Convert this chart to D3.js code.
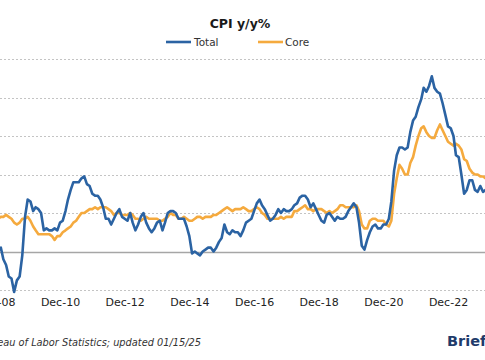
<!DOCTYPE html>
<html><head><meta charset="utf-8">
<script src="https://cdn.jsdelivr.net/npm/d3@7"></script>
<style>body{margin:0;background:#fff;}svg{display:block;font-family:"DejaVu Sans",Verdana,sans-serif;}</style>
</head><body><svg id="c" width="485" height="360"></svg>
<script>
const startMonth = "2008-01";
const total = [
4.3,4.0,4.0,3.9,4.2,5.0,5.6,5.4,4.9,3.7,1.1,0.1,
0.0,0.2,-0.4,-0.7,-1.3,-1.4,-2.1,-1.5,-1.3,-0.2,1.8,2.7,
2.6,2.1,2.3,2.2,2.0,1.1,1.2,1.1,1.1,1.2,1.1,1.5,
1.6,2.1,2.7,3.2,3.6,3.6,3.6,3.8,3.9,3.5,3.4,3.0,
2.9,2.9,2.7,2.3,1.7,1.7,1.4,1.7,2.0,2.2,1.8,1.7,
1.6,2.0,1.5,1.1,1.4,1.8,2.0,1.5,1.2,1.0,1.2,1.5,
1.6,1.1,1.5,2.0,2.1,2.1,2.0,1.7,1.7,1.7,1.3,0.8,
-0.1,0.0,-0.1,-0.2,0.0,0.1,0.2,0.2,0.0,0.2,0.5,0.7,
1.4,1.0,0.9,1.1,1.0,1.0,0.8,1.1,1.5,1.6,1.7,2.1,
2.5,2.7,2.4,2.2,1.9,1.6,1.7,1.9,2.2,2.0,2.2,2.1,
2.1,2.2,2.4,2.5,2.8,2.9,2.9,2.7,2.3,2.5,2.2,1.9,
1.6,1.5,1.9,2.0,1.8,1.6,1.8,1.7,1.7,1.8,2.1,2.3,
2.5,2.3,1.5,0.3,0.1,0.6,1.0,1.3,1.4,1.2,1.2,1.4,
1.4,1.7,2.6,4.2,5.0,5.4,5.4,5.3,5.4,6.2,6.8,7.0,
7.5,7.9,8.5,8.3,8.6,9.1,8.5,8.3,8.2,7.7,7.1,6.5,
6.4,6.0,5.0,4.9,4.0,3.0,3.2,3.7,3.7,3.2,3.1,3.4,
3.1,3.2,3.5,3.4,3.3,3.0,2.9,2.5,2.4,2.6,2.7,2.9
];
const core = [
2.5,2.3,2.4,2.3,2.3,2.4,2.5,2.5,2.5,2.2,2.0,1.8,
1.7,1.8,1.8,1.9,1.8,1.7,1.5,1.4,1.5,1.7,1.7,1.8,
1.6,1.3,1.1,0.9,0.9,0.9,0.9,0.9,0.8,0.6,0.8,0.8,
1.0,1.1,1.2,1.3,1.5,1.6,1.8,2.0,2.0,2.1,2.2,2.2,
2.3,2.2,2.3,2.3,2.3,2.2,2.1,1.9,2.0,2.0,1.9,1.9,
1.9,2.0,1.9,1.7,1.7,1.6,1.7,1.8,1.7,1.7,1.7,1.7,
1.6,1.6,1.7,1.8,2.0,1.9,1.9,1.7,1.7,1.8,1.7,1.6,
1.6,1.7,1.8,1.8,1.7,1.8,1.8,1.8,1.9,1.9,2.0,2.1,
2.2,2.3,2.2,2.1,2.2,2.2,2.2,2.3,2.2,2.1,2.1,2.2,
2.3,2.2,2.0,1.9,1.7,1.7,1.7,1.7,1.7,1.8,1.7,1.8,
1.8,1.8,2.1,2.1,2.2,2.3,2.4,2.2,2.2,2.1,2.2,2.2,
2.2,2.1,2.0,2.1,2.0,2.1,2.2,2.4,2.4,2.3,2.3,2.3,
2.3,2.4,2.1,1.4,1.2,1.2,1.6,1.7,1.7,1.6,1.6,1.6,
1.4,1.3,1.6,3.0,3.8,4.5,4.3,4.0,4.0,4.6,4.9,5.5,
6.0,6.4,6.5,6.2,6.0,5.9,5.9,6.3,6.6,6.3,6.0,5.7,
5.6,5.5,5.6,5.5,5.3,4.8,4.7,4.3,4.1,4.0,4.0,3.9,
3.9,3.8,3.8,3.6,3.4,3.3,3.2,3.2,3.3,3.3,3.3,3.2
];
const yTicks = [-2,0,2,4,6,8,10];
const xTickLabels = ["Dec-08","Dec-10","Dec-12","Dec-14","Dec-16","Dec-18","Dec-20","Dec-22"];
const seriesNames = ["Total","Core"];
const titleText = "CPI y/y%";
const sourceText = "Source: Bureau of Labor Statistics; updated 01/15/25";
const brandText = "Briefing.com";

const parse = d3.timeParse("%Y-%m");
const t0 = parse(startMonth);
const dates = total.map((_, i) => d3.timeMonth.offset(t0, i));
const colors = ["#2b63a3", "#f5aa3e"];

const svg = d3.select("#c");
const x = d3.scaleTime().domain([parse("2010-12"), parse("2022-12")]).range([60, 448]);
const y = d3.scaleLinear().domain([-2, 10]).range([290, 59]);

// gridlines
svg.append("g").selectAll("line").data(yTicks).join("line")
  .attr("x1", 0).attr("x2", 485)
  .attr("y1", d => Math.round(y(d)) + 0.5).attr("y2", d => Math.round(y(d)) + 0.5)
  .attr("stroke", d => d === 0 ? "#a6a6a6" : "#c4c4c4")
  .attr("stroke-width", d => d === 0 ? 1.5 : 1)
  .attr("stroke-dasharray", d => d === 0 ? null : "2,2");

// x axis labels
const tickDates = xTickLabels.map(s => d3.timeParse("Dec-%y")(s)).map(d => new Date(d.getFullYear(), 11, 1));
const xAxis = d3.axisBottom(x).tickValues(tickDates).tickFormat(d3.timeFormat("Dec-%y")).tickSize(0).tickPadding(0);
const gx = svg.append("g").attr("transform", "translate(0,298)").call(xAxis);
gx.select(".domain").remove();
gx.selectAll("text").attr("font-family", "DejaVu Sans, Verdana, sans-serif").attr("font-size", 11).attr("fill", "#222").attr("dy", "0.71em");

// lines (core beneath, total on top)
const line = d3.line().x((d, i) => x(dates[i])).y(d => y(d));
[[core, 1], [total, 0]].forEach(([s, idx]) => {
  svg.append("path").datum(s).attr("d", line)
    .attr("fill", "none").attr("stroke", colors[idx]).attr("stroke-width", 2.6)
    .attr("stroke-linejoin", "round");
});

// title
svg.append("text").attr("x", 240).attr("y", 28).attr("text-anchor", "middle")
  .attr("font-weight", "bold").attr("font-size", 12.5).attr("fill", "#1a1a1a").text(titleText);

// legend
const leg = [{x: 166, tx: 194}, {x: 258, tx: 285}];
seriesNames.forEach((n, i) => {
  svg.append("line").attr("x1", leg[i].x).attr("x2", leg[i].x + 25).attr("y1", 42).attr("y2", 42)
    .attr("stroke", colors[i]).attr("stroke-width", 2.6);
  svg.append("text").attr("x", leg[i].tx).attr("y", 46).attr("font-size", 10.5).attr("fill", "#333").text(n);
});

// source
svg.append("text").attr("x", 201).attr("y", 346).attr("text-anchor", "end")
  .attr("font-style", "italic").attr("font-size", 9.8).attr("fill", "#333").text(sourceText);
svg.append("text").attr("x", 447).attr("y", 346)
  .attr("font-weight", "bold").attr("font-size", 14.5).attr("fill", "#1f3b6b").text(brandText);
</script></body></html>
